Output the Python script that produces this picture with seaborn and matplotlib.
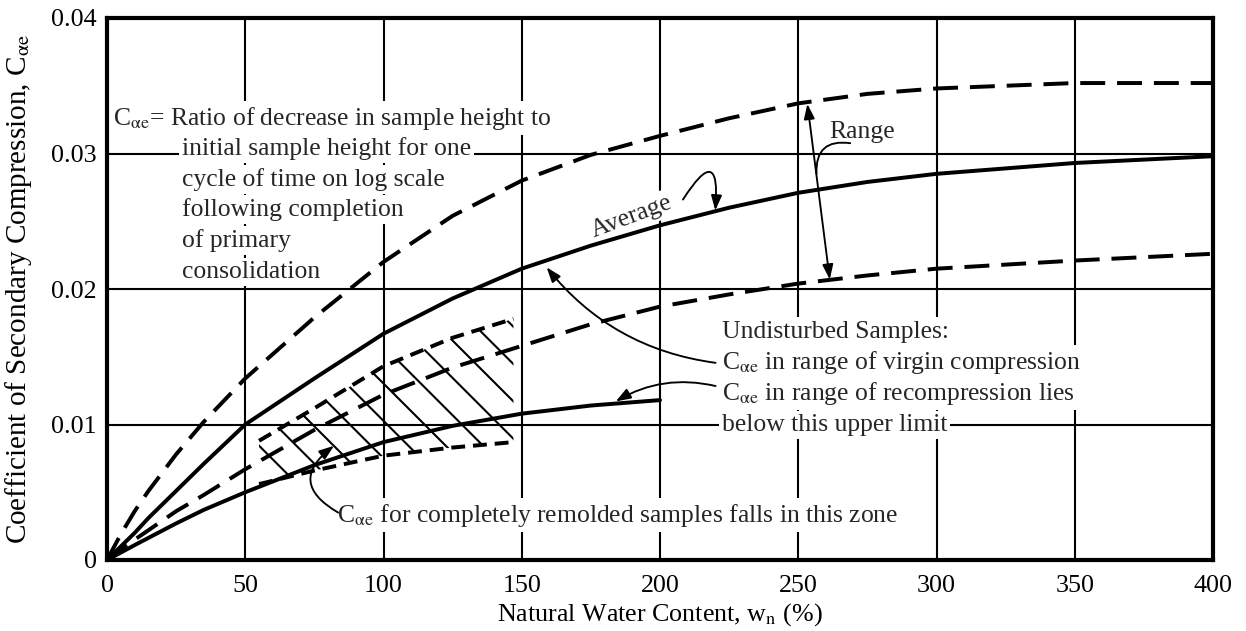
import matplotlib
matplotlib.use('Agg')
import matplotlib.pyplot as plt
import seaborn as sns

# values: natural water content (%) vs C_alpha_e
w_main = [0, 5, 10, 15, 25, 35, 50, 75, 100, 125, 150, 175, 200, 225, 250, 275, 300, 350, 400]
range_upper = [0, 0.0019, 0.0036, 0.0051, 0.0078, 0.0102, 0.0134, 0.0179, 0.0220, 0.0254, 0.0280,
               0.0299, 0.0313, 0.0326, 0.0337, 0.0344, 0.0348, 0.0352, 0.0352]
average = [0, 0.0010, 0.0020, 0.0031, 0.0051, 0.0071, 0.0100, 0.0134, 0.0167, 0.0193, 0.0215,
           0.0232, 0.0247, 0.0260, 0.0271, 0.0279, 0.0285, 0.0293, 0.0298]
range_lower = [0, 0.0008, 0.0015, 0.0022, 0.0036, 0.0048, 0.0067, 0.0096, 0.0122, 0.0142, 0.0158,
               0.0174, 0.0187, 0.0196, 0.0204, 0.0210, 0.0215, 0.0221, 0.0226]

# upper limit for recompression range
w_recomp = [0, 10, 25, 35, 50, 75, 100, 125, 150, 175, 200]
recomp_limit = [0, 0.0011, 0.0027, 0.0037, 0.0050, 0.0070, 0.0087, 0.0099, 0.0108, 0.0114, 0.0118]

# hatched zone for completely remolded samples
w_zone = [55, 75, 100, 125, 147]
zone_top = [0.0088, 0.0112, 0.0143, 0.0164, 0.0178]
zone_bottom = [0.0056, 0.0066, 0.0077, 0.0083, 0.0087]

x_ticks = [0, 50, 100, 150, 200, 250, 300, 350, 400]
y_ticks = [0, 0.01, 0.02, 0.03, 0.04]
y_tick_labels = ['0', '0.01', '0.02', '0.03', '0.04']

CAE = r'C$_{\mathrm{\alpha e}}$'

definition_lines = ['initial sample height for one',
                    'cycle of time on log scale',
                    'following completion',
                    'of primary',
                    'consolidation']
undisturbed_lines = ['Undisturbed Samples:',
                     CAE + ' in range of virgin compression',
                     CAE + ' in range of recompression lies',
                     'below this upper limit']

DPI = 112.5
S = 150 / DPI  # sizes below were tuned at 150 dpi

sns.set_theme(style='white')
plt.rcParams['font.family'] = ['Liberation Serif', 'DejaVu Serif']
plt.rcParams['mathtext.fontset'] = 'stix'
plt.rcParams['hatch.linewidth'] = 1.0 * S
plt.rcParams['hatch.color'] = 'black'

fig = plt.figure(figsize=(1246 / DPI, 631 / DPI), dpi=DPI)
ax = fig.add_axes([107 / 1246, 1 - 560 / 631, 1106 / 1246, 542 / 631])

dash = (0, (6.3, 3.0))
lw = 1.9 * S
sns.lineplot(x=w_main, y=range_upper, ax=ax, color='black', lw=lw, linestyle=dash, zorder=5)
sns.lineplot(x=w_main, y=average, ax=ax, color='black', lw=lw, zorder=5)
sns.lineplot(x=w_main, y=range_lower, ax=ax, color='black', lw=lw, linestyle=dash, zorder=5)
sns.lineplot(x=w_recomp, y=recomp_limit, ax=ax, color='black', lw=lw, zorder=5)

ax.fill_between(w_zone, zone_bottom, zone_top, facecolor='none', edgecolor='black',
                hatch='\\', linewidth=0, zorder=4)
sns.lineplot(x=w_zone, y=zone_top, ax=ax, color='black', lw=lw, linestyle=(0, (3.5, 2)), zorder=5)
sns.lineplot(x=w_zone, y=zone_bottom, ax=ax, color='black', lw=lw, linestyle=(0, (3.5, 2)), zorder=5)

ax.set_xlim(0, 400)
ax.set_ylim(0, 0.04)
ax.set_xticks(x_ticks)
ax.set_yticks(y_ticks)
ax.set_yticklabels(y_tick_labels)
ax.tick_params(axis='both', length=0, labelsize=12.5 * S, colors='black')
ax.tick_params(axis='x', pad=7 * S)
ax.tick_params(axis='y', pad=5 * S)
ax.grid(True, color='black', lw=1.0 * S)
ax.set_axisbelow(True)
for s in ax.spines.values():
    s.set_visible(True)
    s.set_color('black')
    s.set_linewidth(2.0 * S)
    s.set_zorder(6)

ax.set_xlabel(r'Natural Water Content, w$_{\mathrm{n}}$ (%)', fontsize=12.5 * S, labelpad=2 * S,
              color='black')
ax.set_ylabel('Coefficient of Secondary Compression, ' + CAE, fontsize=14 * S, labelpad=8 * S,
              color='black')

box = dict(boxstyle='square,pad=0.12', facecolor='white', edgecolor='none')
tfs = 12.3 * S

ax.text(2.2, 0.03214, CAE + '= Ratio of decrease in sample height to', fontsize=tfs,
        va='baseline', ha='left', bbox=box, zorder=4)
for i, line in enumerate(definition_lines):
    ax.annotate(line, xy=(27.2, 0.03214), xytext=(0, -14.7 * S * (i + 1)), textcoords='offset points',
                fontsize=tfs, va='baseline', ha='left', bbox=box, zorder=4)

for i, line in enumerate(undisturbed_lines):
    ax.annotate(line, xy=(222.3, 0.01642), xytext=(0, -14.9 * S * i), textcoords='offset points',
                fontsize=tfs, va='baseline', ha='left', bbox=box, zorder=4)

ax.text(83.1, 0.00284, CAE + ' for completely remolded samples falls in this zone', fontsize=tfs,
        va='baseline', ha='left', bbox=box, zorder=4)

ax.text(273.2, 0.0316, 'Range', fontsize=tfs, va='center', ha='center', zorder=4)
ax.text(189.6, 0.02535, 'Average', fontsize=tfs, va='center', ha='center', rotation=20.6,
        rotation_mode='anchor', bbox=box, zorder=4)

thin = 0.9 * S
ms = 12 * S
head = '-|>,head_length=0.5,head_width=0.18'
ax.annotate('', xy=(253.3, 0.03366), xytext=(261.4, 0.0207),
            arrowprops=dict(arrowstyle='<|-|>,head_length=0.5,head_width=0.18', color='black',
                            lw=thin, shrinkA=0, shrinkB=0, mutation_scale=ms), zorder=6)
ax.annotate('', xy=(256.6, 0.0285), xytext=(268.8, 0.03076),
            arrowprops=dict(arrowstyle='-', color='black', lw=thin, shrinkA=0, shrinkB=0,
                            connectionstyle='arc3,rad=0.6'), zorder=6)
ax.annotate('', xy=(220.0, 0.0258), xytext=(208.3, 0.0266),
            arrowprops=dict(arrowstyle=head, color='black', lw=thin, shrinkA=0, shrinkB=0,
                            mutation_scale=ms, connectionstyle='arc3,rad=-2'), zorder=6)
ax.annotate('', xy=(159.0, 0.0216), xytext=(220.1, 0.01455),
            arrowprops=dict(arrowstyle=head, color='black', lw=thin, shrinkA=0, shrinkB=0,
                            mutation_scale=ms, connectionstyle='arc3,rad=-0.2'), zorder=6)
ax.annotate('', xy=(184.0, 0.0117), xytext=(220.1, 0.01284),
            arrowprops=dict(arrowstyle=head, color='black', lw=thin, shrinkA=0, shrinkB=0,
                            mutation_scale=ms, connectionstyle='arc3,rad=0.2'), zorder=6)
ax.annotate('', xy=(82.1, 0.00843), xytext=(83.6, 0.0035),
            arrowprops=dict(arrowstyle=head, color='black', lw=thin, shrinkA=0, shrinkB=0,
                            mutation_scale=ms, connectionstyle='arc3,rad=-0.75'), zorder=6)

fig.savefig('out.png', dpi=DPI, facecolor='white')
